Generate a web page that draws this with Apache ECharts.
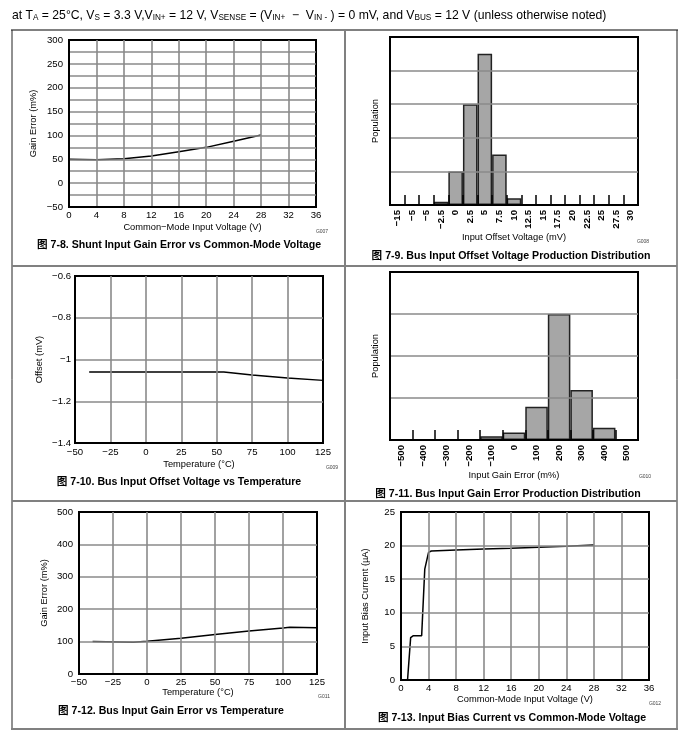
<!DOCTYPE html>
<html><head><meta charset="utf-8">
<script src="https://cdn.jsdelivr.net/npm/echarts@6/dist/echarts.min.js"></script>
<style>html,body{margin:0;padding:0;background:#fff}#c{width:691px;height:735px}</style>
</head><body><div id="c"></div>
<script>
// ---- data ----
const p1X = [0, 4, 8, 12, 16, 20, 24, 28];
const p1Y = [50, 49, 51, 57, 66, 75, 88, 101];

const p2Cats = ['−15','−5','−5','−2.5','0','2.5','5','7.5','10','12.5','15','17.5','20','22.5','25','27.5','30'];
const p2Vals = [0, 0, 0, 0.1, 1.0, 3.0, 4.5, 1.5, 0.2, 0, 0, 0, 0, 0, 0, 0, 0];

const p3X = [-40, 0, 25, 55, 75, 100, 125];
const p3Y = [-1.06, -1.06, -1.06, -1.06, -1.074, -1.089, -1.10];

const p4Cats = ['−500','−400','−300','−200','−100','0','100','200','300','400','500'];
const p4Vals = [0, 0, 0, 0, 0.09, 0.18, 0.79, 3.0, 1.19, 0.29, 0];

const p5X = [-40, -10, 0, 25, 50, 75, 100, 105, 125];
const p5Y = [100, 98, 101, 110, 122, 133, 142, 144, 143];

const p6X = [0.95, 1.4, 1.8, 3.0, 3.45, 4.0, 4.4, 8, 12, 16, 20, 24, 28];
const p6Y = [0, 6.3, 6.6, 6.6, 16.5, 19.0, 19.2, 19.35, 19.5, 19.6, 19.75, 19.9, 20.1];

const captions = [
  '图 7-8. Shunt Input Gain Error vs Common-Mode Voltage',
  '图 7-9. Bus Input Offset Voltage Production Distribution',
  '图 7-10. Bus Input Offset Voltage vs Temperature',
  '图 7-11. Bus Input Gain Error Production Distribution',
  '图 7-12. Bus Input Gain Error vs Temperature',
  '图 7-13. Input Bias Current vs Common-Mode Voltage'
];
const codes = ['G007','G008','G009','G010','G011','G012'];

// ---- helpers ----
const FF = '"Liberation Sans", Arial, sans-serif';
const zip = (a, b) => a.map((v, i) => [v, b[i]]);
const minus = v => String(+(+v).toFixed(2)).replace('-', '−');
const gridLine = {show: true, lineStyle: {color: '#8a8a8a', width: 1.6}, showMinLine: false, showMaxLine: false};
const axLine = {show: true, onZero: false, lineStyle: {color: '#000', width: 2}};
const lbl = (margin, extra) => Object.assign({color: '#000', fontSize: 9.6, fontFamily: FF, margin: margin}, extra || {});
const nameStyle = {color: '#000', fontSize: 9.3, fontFamily: FF};

const grids = [
  {left: 69, top: 40, width: 247, height: 167},
  {left: 390, top: 37, width: 248, height: 168},
  {left: 75, top: 276, width: 248, height: 167},
  {left: 390, top: 272, width: 248, height: 168},
  {left: 79, top: 512, width: 238, height: 162},
  {left: 401, top: 512, width: 248, height: 168}
].map(g => Object.assign({show: true, borderColor: '#000', borderWidth: 2, backgroundColor: 'transparent'}, g));

function valX(gi, min, max, interval, name, gap, margin) {
  return {type: 'value', gridIndex: gi, min, max, interval, name, nameLocation: 'middle', nameGap: gap,
    nameTextStyle: nameStyle, axisLine: axLine, axisTick: {show: false}, z: 5,
    axisLabel: lbl(margin, {formatter: minus}), splitLine: gridLine};
}
function valY(gi, min, max, interval, name, gap, margin, fmt) {
  return {type: 'value', gridIndex: gi, min, max, interval, name, nameLocation: 'middle', nameGap: gap,
    nameRotate: 90, nameTextStyle: nameStyle, axisLine: axLine, axisTick: {show: false}, z: 5,
    axisLabel: lbl(margin, {formatter: fmt || minus}), splitLine: gridLine};
}
function catX(gi, cats, name, gap) {
  return {type: 'category', gridIndex: gi, data: cats, boundaryGap: true, name, nameLocation: 'middle', nameGap: gap,
    nameTextStyle: nameStyle, axisLine: axLine, z: 5,
    axisTick: {show: true, inside: true, length: 10, lineStyle: {color: '#000', width: 1.5}},
    axisLabel: lbl(5, {rotate: 90, interval: 0, fontWeight: 'bold', fontSize: 9.6}), splitLine: {show: false}};
}
function histY(gi, max) {
  return {type: 'value', gridIndex: gi, min: 0, max, interval: 1, name: 'Population', nameLocation: 'middle',
    nameGap: 10, nameRotate: 90, nameTextStyle: nameStyle, axisLine: axLine, axisTick: {show: false},
    axisLabel: {show: false}, splitLine: gridLine, z: 5};
}
const lineSeries = (xi, data) => ({type: 'line', xAxisIndex: xi, yAxisIndex: xi, data, showSymbol: false,
  symbol: 'none', lineStyle: {color: '#000', width: 1.5}, silent: true, animation: false});
const barSeries = (xi, vals) => ({type: 'bar', xAxisIndex: xi, yAxisIndex: xi, data: vals.map(v => v === 0 ? '-' : v),
  barCategoryGap: '0%', itemStyle: {color: '#a6a6a6', borderColor: '#222', borderWidth: 1.5}, silent: true, animation: false});

// ---- decorations ----
const capPos = [[179, 245], [511, 256], [179, 482], [508, 494], [171, 711], [512, 718]];
const codePos = [[322, 232], [643, 242], [332, 468], [645, 477], [324, 697], [655, 704]];
const graphic = [];
const L = (x1, y1, x2, y2, c, w) => graphic.push({type: 'line', silent: true, shape: {x1, y1, x2, y2}, style: {stroke: c, lineWidth: w}});
L(11, 30, 678, 30, '#808080', 2);
L(12, 30, 12, 729, '#222', 1);
L(677, 30, 677, 729, '#222', 1);
L(345, 30, 345, 729, '#808080', 2);
L(12, 266, 677, 266, '#808080', 2);
L(12, 501, 677, 501, '#808080', 2);
L(11, 729, 678, 729, '#808080', 2);
captions.forEach((t, i) => graphic.push({type: 'text', silent: true, x: capPos[i][0], y: capPos[i][1],
  style: {text: t, fill: '#000', font: 'bold 10.6px "Liberation Sans", "Noto Sans CJK SC", sans-serif',
    align: 'center', verticalAlign: 'middle', textAlign: 'center', textVerticalAlign: 'middle'}}));
codes.forEach((t, i) => graphic.push({type: 'text', silent: true, x: codePos[i][0], y: codePos[i][1],
  style: {text: t, fill: '#444', font: '5px "Liberation Sans", sans-serif',
    align: 'center', verticalAlign: 'middle', textAlign: 'center', textVerticalAlign: 'middle'}}));
const hdr = '{n|at T}{s|A}{n| = 25°C, V}{s|S}{n| = 3.3 V,V}{s|IN+}{n| = 12 V, V}{s|SENSE}{n| = (V}{s|IN+}{n|  −  V}{s|IN -}{n| ) = 0 mV, and V}{s|BUS}{n| = 12 V (unless otherwise noted)}';
graphic.push({type: 'text', silent: true, x: 12, y: 7, style: {text: hdr, fill: '#000',
  rich: {n: {fontSize: 12.2, fontFamily: FF, lineHeight: 15, verticalAlign: 'bottom', fill: '#000'},
         s: {fontSize: 8.2, fontFamily: FF, lineHeight: 9, verticalAlign: 'bottom', fill: '#000'}}}});

const option = {
  animation: false,
  textStyle: {fontFamily: FF},
  grid: grids,
  xAxis: [
    valX(0, 0, 36, 4, 'Common−Mode Input Voltage (V)', 16, 3),
    catX(1, p2Cats, 'Input Offset Voltage (mV)', 27),
    valX(2, -50, 125, 25, 'Temperature (°C)', 17, 4),
    catX(3, p4Cats, 'Input Gain Error (m%)', 28),
    valX(4, -50, 125, 25, 'Temperature (°C)', 14, 3),
    valX(5, 0, 36, 4, 'Common-Mode Input Voltage (V)', 15, 3)
  ],
  yAxis: [
    valY(0, -50, 300, 25, 'Gain Error (m%)', 31, 6, v => (v % 50 === 0 ? minus(v) : '')),
    histY(1, 5),
    valY(2, -1.4, -0.6, 0.2, 'Offset (mV)', 31, 4),
    histY(3, 4),
    valY(4, 0, 500, 100, 'Gain Error (m%)', 30, 6),
    valY(5, 0, 25, 5, 'Input Bias Current (µA)', 31, 6)
  ],
  series: [
    lineSeries(0, zip(p1X, p1Y)),
    barSeries(1, p2Vals),
    lineSeries(2, zip(p3X, p3Y)),
    barSeries(3, p4Vals),
    lineSeries(4, zip(p5X, p5Y)),
    lineSeries(5, zip(p6X, p6Y))
  ],
  graphic
};
echarts.init(document.getElementById('c'), null, {renderer: 'canvas'}).setOption(option);
</script></body></html>
